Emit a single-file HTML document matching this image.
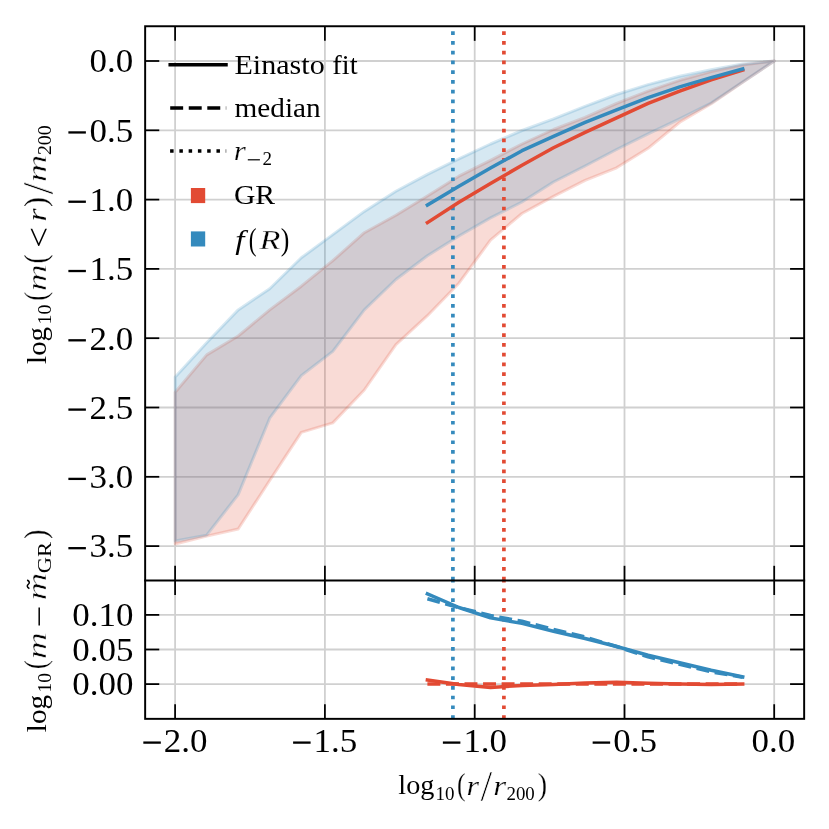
<!DOCTYPE html>
<html><head><meta charset="utf-8"><title>Einasto fit</title>
<style>html,body{margin:0;padding:0;background:#fff;}svg{display:block;will-change:transform;}text{font-family:"Liberation Serif",serif;fill:#000;}</style>
</head><body>
<svg width="829" height="829" viewBox="0 0 829 829">
<rect x="0" y="0" width="829" height="829" fill="#ffffff"/>
<g stroke="#d0d0d0" stroke-width="1.8" fill="none">
<line x1="175.1" y1="26.25" x2="175.1" y2="718.85"/>
<line x1="324.9" y1="26.25" x2="324.9" y2="718.85"/>
<line x1="474.7" y1="26.25" x2="474.7" y2="718.85"/>
<line x1="624.5" y1="26.25" x2="624.5" y2="718.85"/>
<line x1="774.2" y1="26.25" x2="774.2" y2="718.85"/>
<line x1="145.15" y1="61.0" x2="804.15" y2="61.0"/>
<line x1="145.15" y1="130.3" x2="804.15" y2="130.3"/>
<line x1="145.15" y1="199.6" x2="804.15" y2="199.6"/>
<line x1="145.15" y1="268.9" x2="804.15" y2="268.9"/>
<line x1="145.15" y1="338.2" x2="804.15" y2="338.2"/>
<line x1="145.15" y1="407.5" x2="804.15" y2="407.5"/>
<line x1="145.15" y1="476.8" x2="804.15" y2="476.8"/>
<line x1="145.15" y1="546.1" x2="804.15" y2="546.1"/>
<line x1="145.15" y1="614.9" x2="804.15" y2="614.9"/>
<line x1="145.15" y1="649.5" x2="804.15" y2="649.5"/>
<line x1="145.15" y1="684.1" x2="804.15" y2="684.1"/>
</g>
<polygon points="175.2,392.2 206.7,354.9 238.2,336.0 269.7,309.9 301.3,286.2 332.8,260.7 364.3,232.7 395.9,215.3 427.4,196.0 458.9,176.2 490.5,160.4 522.0,144.0 553.5,129.5 585.1,117.4 616.6,103.4 648.1,91.1 679.7,80.3 711.2,71.6 742.7,64.9 774.3,61.0 774.3,61.0 742.7,82.3 711.2,103.7 679.7,122.3 648.1,148.3 616.6,167.8 585.1,180.3 553.5,196.4 522.0,213.5 490.5,240.1 458.9,283.2 427.4,315.7 395.9,344.7 364.3,390.0 332.8,422.9 301.3,432.4 269.7,480.5 238.2,529.0 206.7,536.1 175.2,544.0" fill="#E24A33" fill-opacity="0.2" stroke="#E24A33" stroke-opacity="0.2" stroke-width="3.0" stroke-linejoin="round"/>
<polygon points="175.2,377.0 206.7,342.7 238.2,309.9 269.7,288.7 301.3,257.8 332.8,234.6 364.3,211.4 395.9,191.2 427.4,174.4 458.9,158.8 490.5,144.0 522.0,130.5 553.5,118.9 585.1,106.3 616.6,94.5 648.1,84.6 679.7,76.2 711.2,69.7 742.7,63.9 774.3,61.0 774.3,61.0 742.7,82.0 711.2,103.0 679.7,118.8 648.1,133.8 616.6,149.5 585.1,166.0 553.5,182.0 522.0,202.0 490.5,217.9 458.9,236.0 427.4,255.8 395.9,279.5 364.3,309.9 332.8,351.4 301.3,375.6 269.7,418.2 238.2,494.6 206.7,535.1 175.2,541.0" fill="#348ABD" fill-opacity="0.2" stroke="#348ABD" stroke-opacity="0.2" stroke-width="3.0" stroke-linejoin="round"/>
<line x1="503.9" y1="580.4" x2="503.9" y2="26.25" stroke="#E24A33" stroke-width="3.675" stroke-dasharray="3.675 6.064"/>
<line x1="503.9" y1="718.85" x2="503.9" y2="580.4" stroke="#E24A33" stroke-width="3.675" stroke-dasharray="3.675 6.064"/>
<line x1="452.9" y1="580.4" x2="452.9" y2="26.25" stroke="#348ABD" stroke-width="3.675" stroke-dasharray="3.675 6.064"/>
<line x1="452.9" y1="718.85" x2="452.9" y2="580.4" stroke="#348ABD" stroke-width="3.675" stroke-dasharray="3.675 6.064"/>
<polyline points="427.4,222.6 458.9,202.3 490.5,183.6 522.0,165.2 553.5,147.8 585.1,132.4 616.6,117.9 648.1,103.4 679.7,91.2 711.2,79.8 742.7,70.1" fill="none" stroke="#E24A33" stroke-width="3.5" stroke-linecap="square" stroke-linejoin="round"/>
<polyline points="427.4,205.1 458.9,186.2 490.5,168.1 522.0,150.7 553.5,136.3 585.1,122.4 616.6,109.9 648.1,97.6 679.7,86.9 711.2,77.6 742.7,69.0" fill="none" stroke="#348ABD" stroke-width="3.5" stroke-linecap="square" stroke-linejoin="round"/>
<polyline points="427.4,679.9 458.9,684.5 490.5,687.4 522.0,685.4 553.5,684.4 585.1,683.1 616.6,682.2 648.1,683.3 679.7,684.1 711.2,684.4 742.7,684.1" fill="none" stroke="#E24A33" stroke-width="3.5" stroke-linecap="square" stroke-linejoin="round"/>
<polyline points="427.4,684.1 458.9,684.1 490.5,684.1 522.0,684.1 553.5,684.1 585.1,684.1 616.6,684.1 648.1,684.1 679.7,684.1 711.2,684.1 742.7,684.1" fill="none" stroke="#E24A33" stroke-width="3.5" stroke-dasharray="12.95 5.60" stroke-linejoin="round"/>
<polyline points="427.4,593.8 458.9,607.5 490.5,617.9 522.0,623.4 553.5,631.3 585.1,638.5 616.6,646.5 648.1,655.2 679.7,662.7 711.2,670.3 742.7,676.9" fill="none" stroke="#348ABD" stroke-width="3.5" stroke-linecap="square" stroke-linejoin="round"/>
<polyline points="427.4,598.8 458.9,607.6 490.5,615.5 522.0,621.3 553.5,629.4 585.1,637.0 616.6,646.5 648.1,656.8 679.7,664.4 711.2,671.8 742.7,677.2" fill="none" stroke="#348ABD" stroke-width="3.5" stroke-dasharray="12.95 5.60" stroke-linejoin="round"/>
<g stroke="#000" stroke-width="1.75" fill="none">
<line x1="175.1" y1="26.25" x2="175.1" y2="40.85"/>
<line x1="175.1" y1="565.8" x2="175.1" y2="595.0"/>
<line x1="175.1" y1="704.25" x2="175.1" y2="718.85"/>
<line x1="324.9" y1="26.25" x2="324.9" y2="40.85"/>
<line x1="324.9" y1="565.8" x2="324.9" y2="595.0"/>
<line x1="324.9" y1="704.25" x2="324.9" y2="718.85"/>
<line x1="474.7" y1="26.25" x2="474.7" y2="40.85"/>
<line x1="474.7" y1="565.8" x2="474.7" y2="595.0"/>
<line x1="474.7" y1="704.25" x2="474.7" y2="718.85"/>
<line x1="624.5" y1="26.25" x2="624.5" y2="40.85"/>
<line x1="624.5" y1="565.8" x2="624.5" y2="595.0"/>
<line x1="624.5" y1="704.25" x2="624.5" y2="718.85"/>
<line x1="774.2" y1="26.25" x2="774.2" y2="40.85"/>
<line x1="774.2" y1="565.8" x2="774.2" y2="595.0"/>
<line x1="774.2" y1="704.25" x2="774.2" y2="718.85"/>
<line x1="145.15" y1="61.0" x2="159.25" y2="61.0"/>
<line x1="790.05" y1="61.0" x2="804.15" y2="61.0"/>
<line x1="145.15" y1="130.3" x2="159.25" y2="130.3"/>
<line x1="790.05" y1="130.3" x2="804.15" y2="130.3"/>
<line x1="145.15" y1="199.6" x2="159.25" y2="199.6"/>
<line x1="790.05" y1="199.6" x2="804.15" y2="199.6"/>
<line x1="145.15" y1="268.9" x2="159.25" y2="268.9"/>
<line x1="790.05" y1="268.9" x2="804.15" y2="268.9"/>
<line x1="145.15" y1="338.2" x2="159.25" y2="338.2"/>
<line x1="790.05" y1="338.2" x2="804.15" y2="338.2"/>
<line x1="145.15" y1="407.5" x2="159.25" y2="407.5"/>
<line x1="790.05" y1="407.5" x2="804.15" y2="407.5"/>
<line x1="145.15" y1="476.8" x2="159.25" y2="476.8"/>
<line x1="790.05" y1="476.8" x2="804.15" y2="476.8"/>
<line x1="145.15" y1="546.1" x2="159.25" y2="546.1"/>
<line x1="790.05" y1="546.1" x2="804.15" y2="546.1"/>
<line x1="145.15" y1="614.9" x2="159.25" y2="614.9"/>
<line x1="790.05" y1="614.9" x2="804.15" y2="614.9"/>
<line x1="145.15" y1="649.5" x2="159.25" y2="649.5"/>
<line x1="790.05" y1="649.5" x2="804.15" y2="649.5"/>
<line x1="145.15" y1="684.1" x2="159.25" y2="684.1"/>
<line x1="790.05" y1="684.1" x2="804.15" y2="684.1"/>
</g>
<g stroke="#000" stroke-width="1.95" fill="none" stroke-linecap="square">
<rect x="145.15" y="26.25" width="659.0" height="692.6"/>
<line x1="145.15" y1="580.4" x2="804.15" y2="580.4"/>
</g>
<text transform="translate(133.20,72.45) scale(1.0288,1)" font-size="34.0" text-anchor="end">0.0</text>
<text transform="translate(133.20,141.74) scale(1.0288,1)" font-size="34.0" text-anchor="end">0.5</text>
<rect x="68.38" y="131.29" width="17.5" height="2.3" fill="#000"/>
<text transform="translate(133.20,211.03) scale(1.0288,1)" font-size="34.0" text-anchor="end">1.0</text>
<rect x="68.38" y="200.58" width="17.5" height="2.3" fill="#000"/>
<text transform="translate(133.20,280.32) scale(1.0288,1)" font-size="34.0" text-anchor="end">1.5</text>
<rect x="68.38" y="269.87" width="17.5" height="2.3" fill="#000"/>
<text transform="translate(133.20,349.61) scale(1.0288,1)" font-size="34.0" text-anchor="end">2.0</text>
<rect x="68.38" y="339.16" width="17.5" height="2.3" fill="#000"/>
<text transform="translate(133.20,418.90) scale(1.0288,1)" font-size="34.0" text-anchor="end">2.5</text>
<rect x="68.38" y="408.45" width="17.5" height="2.3" fill="#000"/>
<text transform="translate(133.20,488.19) scale(1.0288,1)" font-size="34.0" text-anchor="end">3.0</text>
<rect x="68.38" y="477.74" width="17.5" height="2.3" fill="#000"/>
<text transform="translate(133.20,557.48) scale(1.0288,1)" font-size="34.0" text-anchor="end">3.5</text>
<rect x="68.38" y="547.03" width="17.5" height="2.3" fill="#000"/>
<text transform="translate(133.40,626.10) scale(1.0288,1)" font-size="34.0" text-anchor="end">0.10</text>
<text transform="translate(133.40,660.70) scale(1.0288,1)" font-size="34.0" text-anchor="end">0.05</text>
<text transform="translate(133.40,695.30) scale(1.0288,1)" font-size="34.0" text-anchor="end">0.00</text>
<text transform="translate(207.55,751.60) scale(1.0288,1)" font-size="34.0" text-anchor="end">2.0</text>
<rect x="143.33" y="741.45" width="17.5" height="2.3" fill="#000"/>
<text transform="translate(357.32,751.60) scale(1.0288,1)" font-size="34.0" text-anchor="end">1.5</text>
<rect x="293.11" y="741.45" width="17.5" height="2.3" fill="#000"/>
<text transform="translate(507.10,751.60) scale(1.0288,1)" font-size="34.0" text-anchor="end">1.0</text>
<rect x="442.88" y="741.45" width="17.5" height="2.3" fill="#000"/>
<text transform="translate(656.88,751.60) scale(1.0288,1)" font-size="34.0" text-anchor="end">0.5</text>
<rect x="592.65" y="741.45" width="17.5" height="2.3" fill="#000"/>
<text transform="translate(795.25,751.60) scale(1.0288,1)" font-size="34.0" text-anchor="end">0.0</text>
<g transform="translate(0,794.4)">
<text transform="translate(398.34,0.00) scale(1.0184,1.0000)" font-size="27.7">log</text>
<text transform="translate(435.48,5.10) scale(0.9688,1.0000)" font-size="19.6">10</text>
<text transform="translate(457.07,0.47) scale(0.9342,1.1232)" font-size="27.7" stroke="#fff" stroke-width="0.2">(</text>
<text transform="translate(466.47,0.42) scale(1.1623,0.9658)" font-size="27.7" font-style="italic" stroke="#fff" stroke-width="0.25">r</text>
<text transform="translate(480.50,6.65) scale(1.5226,1.5640)" font-size="27.7" stroke="#fff" stroke-width="0.4">/</text>
<text transform="translate(493.13,0.42) scale(1.1932,0.9658)" font-size="27.7" font-style="italic" stroke="#fff" stroke-width="0.25">r</text>
<text transform="translate(506.44,5.10) scale(0.9633,1.0000)" font-size="19.6">200</text>
<text transform="translate(537.76,0.47) scale(1.0140,1.1232)" font-size="27.7" stroke="#fff" stroke-width="0.2">)</text>
</g>
<g transform="translate(46.0,363.3) rotate(-90)">
<text transform="translate(-0.58,0.00) scale(1.0444,1.0000)" font-size="27.7">log</text>
<text transform="translate(38.91,4.90) scale(1.0147,1.0000)" font-size="19.6">10</text>
<text transform="translate(62.55,0.47) scale(0.9479,1.1232)" font-size="27.7" stroke="#fff" stroke-width="0.2">(</text>
<text transform="translate(71.97,0.25) scale(1.3515,0.9809)" font-size="27.7" font-style="italic" stroke="#fff" stroke-width="0.45">m</text>
<text transform="translate(99.74,0.47) scale(0.9617,1.1232)" font-size="27.7" stroke="#fff" stroke-width="0.2">(</text>
<text transform="translate(115.62,3.98) scale(1.3387,1.1935)" font-size="27.7">&lt;</text>
<text transform="translate(141.80,0.42) scale(1.2137,0.9658)" font-size="27.7" font-style="italic" stroke="#fff" stroke-width="0.25">r</text>
<text transform="translate(156.29,0.47) scale(1.0854,1.1232)" font-size="27.7" stroke="#fff" stroke-width="0.2">)</text>
<text transform="translate(168.68,6.65) scale(1.5769,1.5640)" font-size="27.7" stroke="#fff" stroke-width="0.4">/</text>
<text transform="translate(181.04,0.25) scale(1.3795,0.9809)" font-size="27.7" font-style="italic" stroke="#fff" stroke-width="0.45">m</text>
<text transform="translate(208.20,4.90) scale(1.0168,1.0000)" font-size="19.6">200</text>
</g>
<g transform="translate(46.0,731.6) rotate(-90)">
<text transform="translate(-0.58,0.00) scale(1.0531,1.0000)" font-size="27.7">log</text>
<text transform="translate(39.14,4.90) scale(0.9975,1.0000)" font-size="19.6">10</text>
<text transform="translate(62.29,0.47) scale(1.0029,1.1232)" font-size="27.7" stroke="#fff" stroke-width="0.2">(</text>
<text transform="translate(72.37,0.25) scale(1.3515,0.9809)" font-size="27.7" font-style="italic" stroke="#fff" stroke-width="0.45">m</text>
<text transform="translate(131.03,0.25) scale(1.3964,0.9809)" font-size="27.7" font-style="italic" stroke="#fff" stroke-width="0.45">m</text>
<text transform="translate(158.40,4.90) scale(1.1471,1.0000)" font-size="19.6">GR</text>
<text transform="translate(192.64,0.47) scale(1.0283,1.1232)" font-size="27.7" stroke="#fff" stroke-width="0.2">)</text>
<line x1="106.2" y1="-6.8" x2="124.1" y2="-6.8" stroke="#000" stroke-width="1.5"/>
<path d="M143.0 -16.6 c1.6 -2.6 3.0 -2.6 4.3 -1.1 c1.3 1.5 2.7 1.5 4.3 -1.1" fill="none" stroke="#000" stroke-width="1.5"/>
</g>
<g stroke="#000" stroke-width="3.5" fill="none">
<line x1="170.2" y1="64.7" x2="226.0" y2="64.7" stroke-linecap="square"/>
<line x1="170.2" y1="108.1" x2="226.2" y2="108.1" stroke-dasharray="12.95 5.60"/>
<line x1="170.1" y1="151.1" x2="226.2" y2="151.1" stroke-dasharray="3.50 5.77"/>
</g>
<rect x="190.9" y="188.0" width="14.3" height="15.1" fill="#E24A33"/>
<rect x="190.9" y="231.4" width="14.3" height="15.1" fill="#348ABD"/>
<text transform="translate(234.50,73.80) scale(1.0857,1.0000)" font-size="27.7">Einasto</text>
<text transform="translate(332.25,73.80) scale(1.0275,1.0000)" font-size="27.7">fit</text>
<text transform="translate(234.51,116.80) scale(1.0570,1.0000)" font-size="27.7">median</text>
<text transform="translate(233.72,160.22) scale(1.1212,0.9658)" font-size="27.7" font-style="italic" stroke="#fff" stroke-width="0.25">r</text>
<line x1="247.8" y1="159.8" x2="259.9" y2="159.8" stroke="#000" stroke-width="1.2"/>
<text transform="translate(262.54,164.60) scale(0.9706,1.0000)" font-size="19.6">2</text>
<text transform="translate(233.91,203.70) scale(1.0706,1.0000)" font-size="27.7">GR</text>
<text transform="translate(235.17,249.40) scale(1.1941,1.0000)" font-size="27.7" font-style="italic">f</text>
<text transform="translate(248.67,249.81) scale(0.8424,1.1144)" font-size="27.7">(</text>
<text transform="translate(259.56,249.40) scale(1.2352,1.0000)" font-size="27.7" font-style="italic" stroke="#fff" stroke-width="0.3">R</text>
<text transform="translate(280.73,249.81) scale(0.9303,1.1144)" font-size="27.7">)</text>
</svg>
</body></html>
